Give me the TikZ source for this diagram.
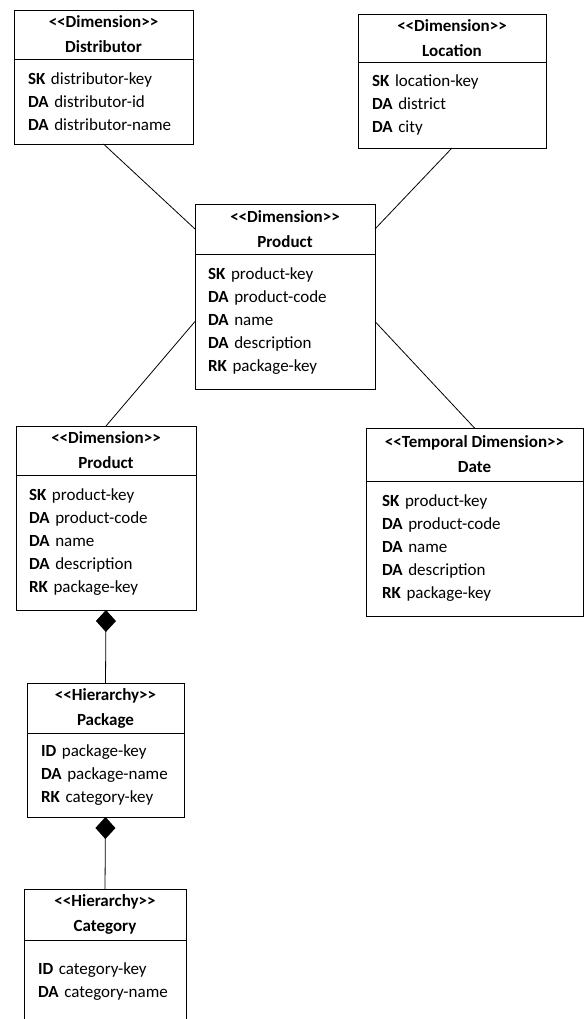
\documentclass[tikz,border=0pt]{standalone}
\usepackage{fontspec}
\setmainfont{Carlito}
\usetikzlibrary{arrows.meta, positioning}

\newcommand\stereo[1]{<\kern0pt<#1>\kern0pt>}

\tikzset{
  boxhead/.style={draw, line width=0.9pt, align=center, inner sep=0pt, outer sep=0pt,
    font=\bfseries\fontsize{17}{25}\selectfont, anchor=north west},
  boxbody/.style={draw, line width=0.9pt, align=left, inner xsep=14pt, inner ysep=0pt,
    outer sep=0pt, font=\fontsize{17}{23}\selectfont, below=0pt of #1},
  link/.style={line width=0.8pt},
  compose/.style={line width=0.8pt, {Diamond[length=22pt,width=20pt]}-},
}

\begin{document}
\begin{tikzpicture}[x=1pt, y=-1pt]
    \clip (0,0) rectangle (584,1019);

    % Distributor
    \node[boxhead, minimum width=179pt, minimum height=49pt] (distH) at (14,10) {\stereo{Dimension}\\Distributor};
    \node[boxbody=distH, text width=151pt, minimum height=85pt] (distB)
        {\textbf{SK} distributor-key\\\textbf{DA} distributor-id\\\textbf{DA} distributor-name};

    % Location
    \node[boxhead, minimum width=188pt, minimum height=48pt] (locH) at (358,14) {\stereo{Dimension}\\Location};
    \node[boxbody=locH, text width=160pt, minimum height=86pt] (locB)
        {\textbf{SK} location-key\\\textbf{DA} district\\\textbf{DA} city};

    % Product (centre)
    \node[boxhead, minimum width=180pt, minimum height=50pt] (prodH) at (195,204) {\stereo{Dimension}\\Product};
    \node[boxbody=prodH, inner xsep=13pt, text width=154pt, minimum height=135pt] (prodB)
        {\textbf{SK} product-key\\\textbf{DA} product-code\\\textbf{DA} name\\\textbf{DA} description\\\textbf{RK} package-key};

    % Product (left)
    \node[boxhead, minimum width=180pt, minimum height=49pt] (prod2H) at (16,426) {\stereo{Dimension}\\Product};
    \node[boxbody=prod2H, inner xsep=13pt, text width=154pt, minimum height=135pt] (prod2B)
        {\textbf{SK} product-key\\\textbf{DA} product-code\\\textbf{DA} name\\\textbf{DA} description\\\textbf{RK} package-key};

    % Date
    \node[boxhead, minimum width=217pt, minimum height=53pt] (dateH) at (366,428) {\stereo{Temporal Dimension}\\Date};
    \node[boxbody=dateH, inner xsep=16pt, text width=185pt, minimum height=135pt] (dateB)
        {\textbf{SK} product-key\\\textbf{DA} product-code\\\textbf{DA} name\\\textbf{DA} description\\\textbf{RK} package-key};

    % Package
    \node[boxhead, minimum width=157pt, minimum height=50pt] (pkgH) at (27,683) {\stereo{Hierarchy}\\Package};
    \node[boxbody=pkgH, text width=129pt, minimum height=84pt] (pkgB)
        {\textbf{ID} package-key\\\textbf{DA} package-name\\\textbf{RK} category-key};

    % Category
    \node[boxhead, minimum width=162pt, minimum height=51pt] (catH) at (24,889) {\stereo{Hierarchy}\\Category};
    \node[boxbody=catH, text width=134pt, minimum height=84pt] (catB)
        {\textbf{ID} category-key\\\textbf{DA} category-name};

    % Links
    \draw[link] (distB.south) -- (prodH.west);
    \draw[link] (locB.south) -- (prodH.east);
    \draw[link] (prodB.west) -- (prod2H.north);
    \draw[link] (prodB.east) -- (dateH.north);

    % Composition
    \draw[compose] (prod2B.south) -- (pkgH.north);
    \draw[compose] (pkgB.south) -- (catH.north);
\end{tikzpicture}
\end{document}
